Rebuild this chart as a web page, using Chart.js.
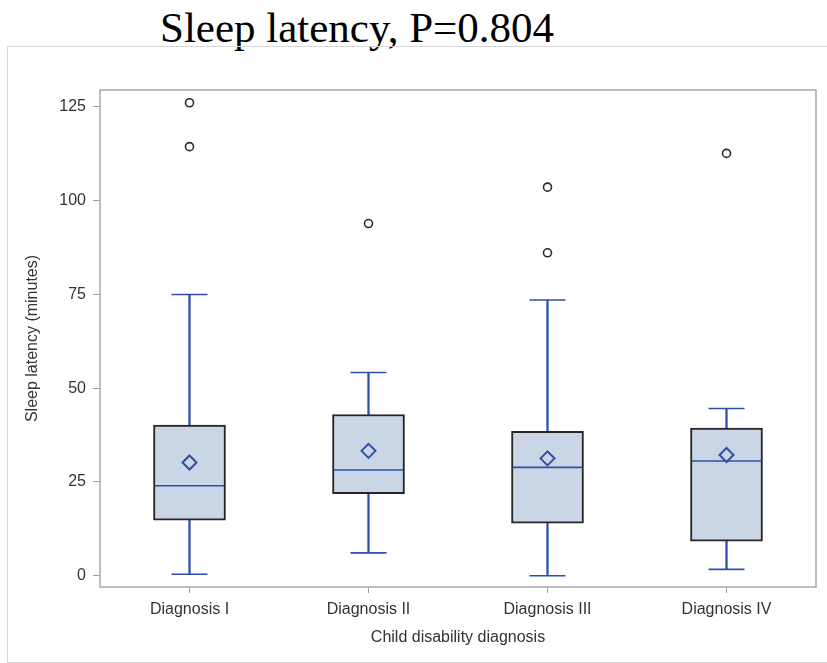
<!DOCTYPE html>
<html>
<head>
<meta charset="utf-8">
<script src="https://cdn.jsdelivr.net/npm/chart.js@4"></script>
<style>
  body { margin: 0; background: #fff; }
  #wrap { position: relative; width: 827px; height: 663px; overflow: hidden; }
  #title {
    position: absolute; left: 160px; top: 6px;
    font: 43px/43px "Liberation Serif", "Times New Roman", serif;
    color: #000; white-space: nowrap;
  }
  #frame {
    position: absolute; left: 7px; top: 46px; width: 840px; height: 615px;
    border: 1px solid #d6d6d6;
  }
  #chart { position: absolute; left: 0; top: 0; }
</style>
</head>
<body>
<div id="wrap">
  <div id="title">Sleep latency, P=0.804</div>
  <div id="frame"></div>
  <canvas id="chart" width="827" height="663"></canvas>
</div>
<script>
// valeurs
const categories = ['Diagnosis I', 'Diagnosis II', 'Diagnosis III', 'Diagnosis IV'];
const whiskerLow = [0.4, 6.1, 0.0, 1.7];
const q1 = [14.8, 21.9, 14.0, 9.2];
const median = [24.0, 28.2, 28.9, 30.6];
const q3 = [40.2, 43.0, 38.5, 39.4];
const whiskerHigh = [75.0, 54.2, 73.5, 44.6];
const means = [30.2, 33.3, 31.3, 32.2];
const outliers = [[126.1, 114.4], [93.9], [103.6, 86.1], [112.6]];
const yTicks = [0, 25, 50, 75, 100, 125];

const blue = '#2d4fa8';
const boxFill = '#cad5e5';
const textColor = '#333333';

function points(values) {
    return values.map((v, i) => ({ x: categories[i], y: v }));
}

const outlierPoints = [];
outliers.forEach((list, i) => list.forEach(v => outlierPoints.push({ x: categories[i], y: v })));

const plotBorder = {
    id: 'plotBorder',
    afterDraw(chart) {
        const a = chart.chartArea;
        const ctx = chart.ctx;
        ctx.save();
        ctx.strokeStyle = '#a9a9a9';
        ctx.lineWidth = 1.5;
        ctx.strokeRect(a.left, a.top, a.right - a.left, a.bottom - a.top);
        ctx.restore();
    }
};

const pointDs = (data, extra) => Object.assign({
    type: 'line',
    data: data,
    showLine: false,
    borderColor: blue,
    backgroundColor: 'transparent',
    pointBorderColor: blue,
    pointBackgroundColor: 'transparent',
    pointBorderWidth: 1.6,
    pointHoverRadius: 0
}, extra);

new Chart(document.getElementById('chart'), {
    type: 'bar',
    data: {
        labels: categories,
        datasets: [
            {
                data: whiskerLow.map((v, i) => [v, q1[i]]),
                backgroundColor: blue, borderWidth: 0,
                barThickness: 1.6, grouped: false, order: 10
            },
            {
                data: q3.map((v, i) => [v, whiskerHigh[i]]),
                backgroundColor: blue, borderWidth: 0,
                barThickness: 1.6, grouped: false, order: 10
            },
            {
                data: q1.map((v, i) => [v, q3[i]]),
                backgroundColor: boxFill, borderColor: '#262626', borderWidth: 2,
                borderSkipped: false, barThickness: 72, grouped: false, order: 5
            },
            pointDs(points(whiskerLow), { pointStyle: 'line', pointRadius: 18, order: 4 }),
            pointDs(points(whiskerHigh), { pointStyle: 'line', pointRadius: 18, order: 4 }),
            pointDs(points(median), { pointStyle: 'line', pointRadius: 35, order: 3 }),
            pointDs(points(means), { pointStyle: 'rectRot', pointRadius: 7, pointBorderWidth: 2, order: 2 }),
            pointDs(outlierPoints, {
                pointStyle: 'circle', pointRadius: 4, pointBorderWidth: 1.6,
                pointBorderColor: '#2a2a2a', order: 1
            })
        ]
    },
    plugins: [plotBorder],
    options: {
        responsive: false,
        animation: false,
        layout: { autoPadding: false, padding: { left: 0, top: 90, right: 11, bottom: 0 } },
        plugins: { legend: { display: false }, tooltip: { enabled: false } },
        scales: {
            x: {
                type: 'category',
                offset: true,
                grid: { display: true, drawOnChartArea: false, drawTicks: true, tickLength: 6, color: '#a0a0a0', offset: false },
                border: { display: false },
                ticks: { padding: 7, color: textColor, font: { family: 'Liberation Sans, Arial', size: 16 }, maxRotation: 0 },
                title: {
                    display: true, text: 'Child disability diagnosis', color: textColor,
                    font: { family: 'Liberation Sans, Arial', size: 16 }, padding: { top: 0, bottom: 16 }
                },
                afterFit(scale) {
                    scale.height = 76;
                    scale.paddingLeft = 0;
                    scale.paddingRight = 0;
                }
            },
            y: {
                min: -3,
                max: 129.5,
                afterBuildTicks(scale) { scale.ticks = yTicks.map(v => ({ value: v })); },
                grid: { display: true, drawOnChartArea: false, drawTicks: true, tickLength: 7, color: '#a0a0a0' },
                border: { display: false },
                ticks: { padding: 7, color: textColor, font: { family: 'Liberation Sans, Arial', size: 16 } },
                title: {
                    display: true, text: 'Sleep latency (minutes)', color: textColor,
                    font: { family: 'Liberation Sans, Arial', size: 16 }, padding: { top: 23, bottom: 0 }
                },
                afterFit(scale) {
                    scale.width = 100;
                    scale.paddingTop = 0;
                    scale.paddingBottom = 0;
                }
            }
        }
    }
});
</script>
</body>
</html>
